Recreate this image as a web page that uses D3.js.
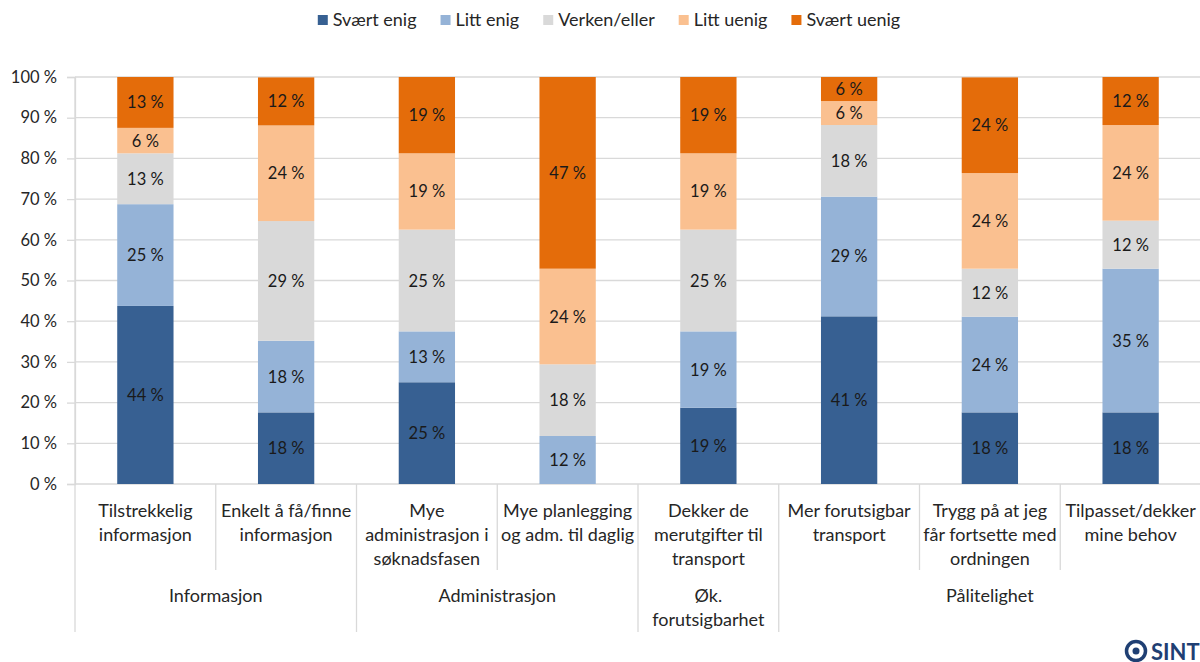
<!DOCTYPE html>
<html>
<head>
<meta charset="utf-8">
<script src="https://cdn.jsdelivr.net/npm/d3@7"></script>
<style>
  body { margin: 0; background: #fff; overflow: hidden; }
  svg { font-family: Lato, "Open Sans", sans-serif; }
</style>
</head>
<body>
<svg id="chart" width="1200" height="662"></svg>
<script>
// Data (percent of respondents)
const categories = [
  "Tilstrekkelig informasjon",
  "Enkelt å få/finne informasjon",
  "Mye administrasjon i søknadsfasen",
  "Mye planlegging og adm. til daglig",
  "Dekker de merutgifter til transport",
  "Mer forutsigbar transport",
  "Trygg på at jeg får fortsette med ordningen",
  "Tilpasset/dekker mine behov"
];
const categoryLines = [
  ["Tilstrekkelig", "informasjon"],
  ["Enkelt å få/finne", "informasjon"],
  ["Mye", "administrasjon i", "søknadsfasen"],
  ["Mye planlegging", "og adm. til daglig"],
  ["Dekker de", "merutgifter til", "transport"],
  ["Mer forutsigbar", "transport"],
  ["Trygg på at jeg", "får fortsette med", "ordningen"],
  ["Tilpasset/dekker", "mine behov"]
];
const groupNames = [["Informasjon"], ["Administrasjon"], ["Øk.", "forutsigbarhet"], ["Pålitelighet"]];
const groupSizes = [2, 2, 1, 3];

const seriesNames = ["Svært enig", "Litt enig", "Verken/eller", "Litt uenig", "Svært uenig"];
const seriesColors = ["#376092", "#95b3d7", "#d9d9d9", "#fac090", "#e46c0a"];

const sværtEnig  = [43.75, 17.6, 25,   0,    18.75, 41.2, 17.6, 17.6];
const littEnig   = [25,    17.6, 12.5, 11.8, 18.75, 29.4, 23.5, 35.3];
const verken     = [12.5,  29.4, 25,   17.6, 25,    17.6, 11.8, 11.8];
const littUenig  = [6.25,  23.5, 18.75, 23.5, 18.75, 5.9, 23.5, 23.5];
const sværtUenig = [12.5,  11.8, 18.75, 47.1, 18.75, 5.9, 23.5, 11.8];

const yTicks = [0, 10, 20, 30, 40, 50, 60, 70, 80, 90, 100];

const seriesValues = [sværtEnig, littEnig, verken, littUenig, sværtUenig];
const rows = categories.map((c, i) => {
  const r = { cat: c };
  seriesNames.forEach((s, j) => r[s] = seriesValues[j][i]);
  return r;
});

const svg = d3.select("#chart");
const plotLeft = 75, plotRight = 1201, plotTop = 77, plotBottom = 484;

const x = d3.scaleBand().domain(categories).range([plotLeft, plotRight]).padding(0);
const y = d3.scaleLinear().domain([0, 100]).range([plotBottom, plotTop]);
const color = d3.scaleOrdinal().domain(seriesNames).range(seriesColors);
const barW = x.bandwidth() * 0.4;

// gridlines
svg.append("g").selectAll("line")
  .data(yTicks.filter(d => d > 0))
  .enter().append("line")
  .attr("x1", plotLeft).attr("x2", 1200)
  .attr("y1", d => y(d)).attr("y2", d => y(d))
  .attr("stroke", "#d9d9d9").attr("stroke-width", 1.3);

// y axis
const yAxis = svg.append("g")
  .attr("transform", `translate(${plotLeft},0)`)
  .call(d3.axisLeft(y).tickValues(yTicks).tickFormat(d => d + " %").tickSize(8).tickPadding(10));
yAxis.select(".domain").attr("stroke", "#d9d9d9").attr("stroke-width", 1.3);
yAxis.selectAll(".tick line").attr("stroke", "#d9d9d9").attr("stroke-width", 1.3);
yAxis.selectAll(".tick text").attr("font-size", 16.5).attr("fill", "#262626")
  .attr("font-family", "Lato, sans-serif");

// bottom baseline
svg.append("line")
  .attr("x1", plotLeft).attr("x2", 1200).attr("y1", plotBottom).attr("y2", plotBottom)
  .attr("stroke", "#d9d9d9").attr("stroke-width", 1.3);

// stacked bars
const stack = d3.stack().keys(seriesNames)(rows);
const layer = svg.append("g").selectAll("g")
  .data(stack).enter().append("g")
  .attr("fill", d => color(d.key));

layer.selectAll("rect")
  .data(d => d)
  .enter().append("rect")
  .attr("x", d => x(d.data.cat) + (x.bandwidth() - barW) / 2)
  .attr("width", barW)
  .attr("y", d => y(d[1]))
  .attr("height", d => y(d[0]) - y(d[1]));

layer.selectAll("text")
  .data(d => d.filter(p => p[1] - p[0] > 0))
  .enter().append("text")
  .attr("x", d => x(d.data.cat) + x.bandwidth() / 2)
  .attr("y", d => (y(d[0]) + y(d[1])) / 2 + 6)
  .attr("text-anchor", "middle")
  .attr("font-size", 16.5)
  .attr("fill", "#1a1a1a")
  .text(d => Math.round(d[1] - d[0]) + " %");

// category separators and labels
const catLineY = [517, 541, 565];
const boundaries = [];
let acc = 0;
groupSizes.forEach(n => { boundaries.push(acc); acc += n; });
boundaries.push(acc);

d3.range(categories.length + 1).forEach(i => {
  const xx = i < categories.length ? x(categories[i]) : plotRight;
  const isGroup = boundaries.includes(i);
  svg.append("line")
    .attr("x1", xx).attr("x2", xx)
    .attr("y1", i === 0 ? plotTop : plotBottom)
    .attr("y2", isGroup ? 632 : 570)
    .attr("stroke", "#d9d9d9").attr("stroke-width", 1.3);
});

categories.forEach((c, i) => {
  const t = svg.append("text")
    .attr("text-anchor", "middle")
    .attr("font-size", 18)
    .attr("fill", "#262626");
  categoryLines[i].forEach((ln, k) => {
    t.append("tspan").attr("x", x(c) + x.bandwidth() / 2).attr("y", catLineY[k]).text(ln);
  });
});

groupNames.forEach((g, gi) => {
  const x0 = x(categories[boundaries[gi]]);
  const x1 = boundaries[gi + 1] < categories.length ? x(categories[boundaries[gi + 1]]) : plotRight;
  const t = svg.append("text")
    .attr("text-anchor", "middle")
    .attr("font-size", 18)
    .attr("fill", "#262626");
  g.forEach((ln, k) => {
    t.append("tspan").attr("x", (x0 + x1) / 2).attr("y", 602 + k * 24).text(ln);
  });
});

// legend
const legend = svg.append("g");
let lx = 0;
seriesNames.forEach(s => {
  const item = legend.append("g").attr("transform", `translate(${lx},0)`);
  item.append("rect").attr("x", 0).attr("y", 15).attr("width", 10).attr("height", 10)
    .attr("fill", color(s));
  const txt = item.append("text").attr("x", 15).attr("y", 26)
    .attr("font-size", 18).attr("fill", "#262626").text(s);
  lx += 15 + txt.node().getComputedTextLength() + 24;
});
lx -= 24;
legend.attr("transform", `translate(${609 - lx / 2},0)`);

// logo (cut off at the right edge, as in the source)
const logo = svg.append("g").attr("transform", "translate(1136,651)");
logo.append("circle").attr("r", 9.5).attr("fill", "none").attr("stroke", "#1f3f73").attr("stroke-width", 3.5);
logo.append("circle").attr("r", 3.5).attr("fill", "#1f3f73");
svg.append("text").attr("x", 1151).attr("y", 660)
  .attr("font-size", 22).attr("font-weight", "bold").attr("fill", "#1f3f73")
  .text("SINTEF");
</script>
</body>
</html>
